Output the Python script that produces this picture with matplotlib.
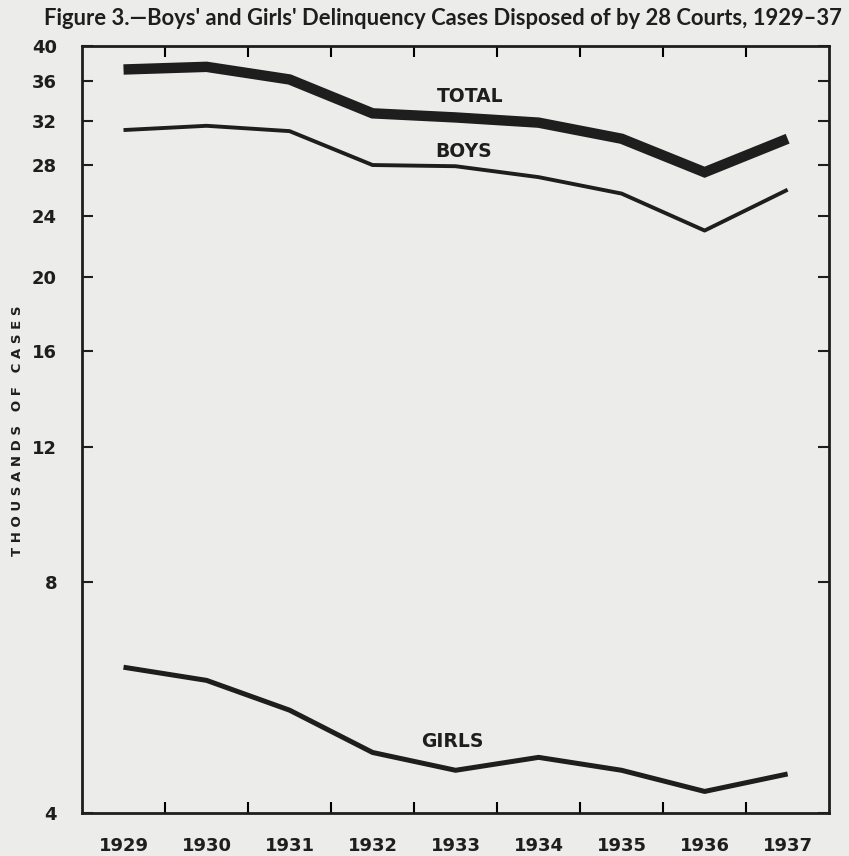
import matplotlib
matplotlib.use("Agg")
import matplotlib.pyplot as plt
from matplotlib.ticker import FixedLocator, NullLocator, FixedFormatter

years = ["1929", "1930", "1931", "1932", "1933", "1934", "1935", "1936", "1937"]
total = [37.3, 37.6, 36.2, 32.7, 32.3, 31.8, 30.3, 27.4, 30.3]
boys = [31.1, 31.5, 31.0, 28.0, 27.9, 27.0, 25.7, 23.0, 26.0]
girls = [6.2, 5.96, 5.45, 4.80, 4.55, 4.73, 4.55, 4.27, 4.50]
yticks = [4, 8, 12, 16, 20, 24, 28, 32, 36, 40]

bg = "#ececea"
ink = "#1e1e1e"

fig = plt.figure(figsize=(8.49, 8.56), dpi=100, facecolor=bg)
ax = fig.add_axes([0.0966, 0.050, 0.880, 0.896], facecolor=bg)

x = list(range(len(years)))
ax.plot(x, total, color=ink, lw=7.5, solid_capstyle="butt", solid_joinstyle="miter")
ax.plot(x, boys, color=ink, lw=2.8, solid_capstyle="butt")
ax.plot(x, girls, color=ink, lw=3.6, solid_capstyle="butt")

ax.set_yscale("log")
ax.set_ylim(4, 40)
ax.set_xlim(-0.5, len(years) - 0.5)

ax.yaxis.set_major_locator(FixedLocator(yticks))
ax.yaxis.set_major_formatter(FixedFormatter([str(v) for v in yticks]))
ax.yaxis.set_minor_locator(NullLocator())
ax.tick_params(axis="y", which="major", direction="in", length=8, width=1.5,
               left=True, right=True, labelleft=True, labelright=False,
               labelsize=13, colors=ink, pad=18)

ax.set_xticks(x)
ax.set_xticklabels(years)
ax.xaxis.set_minor_locator(FixedLocator([i + 0.5 for i in range(len(years) - 1)]))
ax.tick_params(axis="x", which="major", length=0, labelsize=13, colors=ink, pad=17)
ax.tick_params(axis="x", which="minor", direction="in", length=8, width=1.5,
               top=True, bottom=True)

for lab in ax.get_xticklabels() + ax.get_yticklabels():
    lab.set_fontweight("bold")

for s in ax.spines.values():
    s.set_linewidth(2.0)
    s.set_color(ink)

ax.text(0.519, 0.934, "TOTAL", transform=ax.transAxes, ha="center", va="center",
        fontsize=13.5, fontweight="bold", color=ink)
ax.text(0.511, 0.863, "BOYS", transform=ax.transAxes, ha="center", va="center",
        fontsize=13.5, fontweight="bold", color=ink)
ax.text(0.495, 0.094, "GIRLS", transform=ax.transAxes, ha="center", va="center",
        fontsize=13.5, fontweight="bold", color=ink)

fig.text(0.021, 0.497, "T H O U S A N D S   O F   C A S E S", rotation=90,
         ha="center", va="center", fontsize=9.5, fontweight="bold", color=ink)

fig.text(0.522, 0.978, "Figure 3.\u2014Boys' and Girls' Delinquency Cases Disposed of by 28 Courts, 1929\u201337",
         ha="center", va="center", fontsize=15.8, fontweight="bold", color=ink,
         family=["Lato", "DejaVu Sans"])

fig.savefig("out.png", dpi=100, facecolor=bg)
